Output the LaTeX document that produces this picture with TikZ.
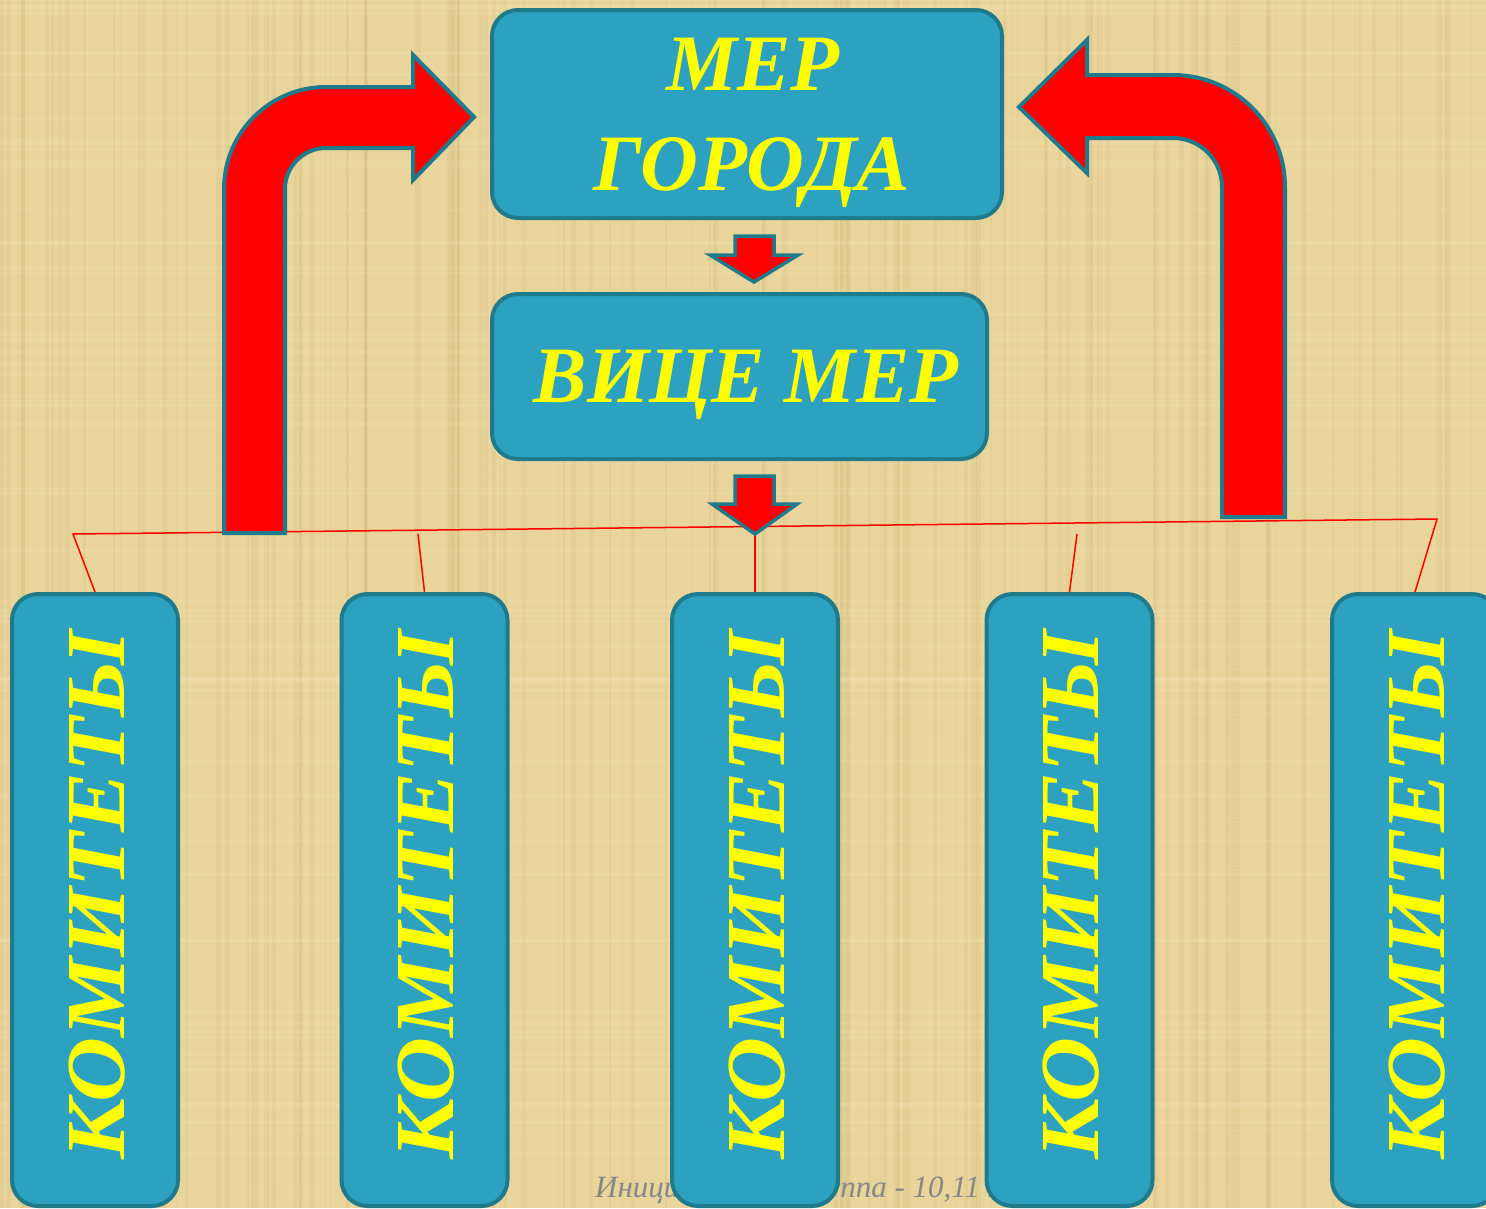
\documentclass[tikz,border=0pt]{standalone}
\usepackage{fontspec}
\setmainfont{Liberation Serif}
\usetikzlibrary{calc}
\definecolor{bg}{RGB}{233,212,155}
\definecolor{bgdark}{RGB}{200,175,110}
\definecolor{bglight}{RGB}{248,234,192}
\definecolor{boxfill}{RGB}{44,162,192}
\definecolor{boxline}{RGB}{31,122,140}
\definecolor{txt}{RGB}{255,255,0}
\definecolor{foot}{RGB}{135,135,135}
\begin{document}
\begin{tikzpicture}[x=1pt,y=-1pt,
  box/.style={draw=boxline, line width=4pt, fill=boxfill, rounded corners=26pt, inner sep=0pt},
  boxtext/.style={text=txt, inner sep=0pt, font=\fontsize{80}{90}\selectfont\bfseries\itshape},
  comtext/.style={text=txt, inner sep=0pt, rotate=90, anchor=base, font=\fontsize{84}{90}\selectfont\bfseries\itshape},
  redarrow/.style={draw=boxline, line width=4pt, fill=red, line join=miter},
  smallarrow/.style={draw=boxline, line width=3.5pt, fill=red, line join=miter},
  link/.style={draw=red, line width=1.5pt}]
\useasboundingbox (0,0) rectangle (1486,1208);
\clip (0,0) rectangle (1486,1208);
\fill[bg] (0,0) rectangle (1486,1208);
% texture
\pgfmathsetseed{11}
\foreach \i in {1,...,140}{
  \pgfmathsetmacro\xx{rnd*1486}
  \pgfmathsetmacro\ww{0.5+rnd*5}
  \draw[bgdark, opacity=0.16, line width=\ww pt] (\xx,0) -- (\xx,1208);
}
\foreach \i in {1,...,90}{
  \pgfmathsetmacro\yy{rnd*1208}
  \pgfmathsetmacro\ww{0.5+rnd*4}
  \draw[bglight, opacity=0.14, line width=\ww pt] (0,\yy) -- (1486,\yy);
}
% footer text (partly hidden by the boxes)
\node[anchor=base west, inner sep=0pt, text=foot, font=\fontsize{31}{36}\selectfont\itshape] (foot) at (595,1197) {Инициативная группа - 10,11 классов};

% boxes
\node[box, minimum width=510pt, minimum height=208pt] (mer) at (747,114) {};
\node[boxtext, anchor=base] (mer1) at (753,90) {МЕР};
\node[boxtext, anchor=base] (mer2) at (752,190) {ГОРОДА};
\node[box, minimum width=495pt, minimum height=165pt] (vice) at (739.5,376.5) {};
\node[boxtext, anchor=base] (vicet) at (746,402) {ВИЦЕ МЕР};

\foreach \n/\x in {c1/95,c2/424.5,c3/755,c4/1069.5,c5/1415}{
  \node[box, minimum width=166pt, minimum height=612pt] (\n) at (\x,900) {};
  \node[comtext] (\n t) at ($(\n.center)+(29,-5)$) {\scalebox{1.07}[1]{КОМИТЕТЫ}};
}

% red links
\coordinate (hl) at (73,534);
\coordinate (hr) at (1437,519);
\coordinate (t2) at (418,534);
\coordinate (t3) at (755,527);
\coordinate (t4) at (1077,534);
\draw[link] (c1.north) -- (hl) -- (hr) -- (c5.north);
\draw[link] (t2) -- (c2.north);
\draw[link] (t3) -- (c3.north);
\draw[link] (t4) -- (c4.north);

% small arrows
\draw[smallarrow, shift={(mer.south)}] (-12,16) -- (27,16) -- (27,35) -- (51,35) -- (7,62) -- (-37,35) -- (-12,35) -- cycle;
\draw[smallarrow, shift={(vice.south)}] (-4.5,15) -- (34.5,15) -- (34.5,43) -- (57.5,43) -- (15.5,73) -- (-27.5,43) -- (-4.5,43) -- cycle;

% big curved arrows
\draw[redarrow] (224,533) -- (224,189) .. controls (224,132.7) and (269.7,87) .. (326,87) -- (413,87) -- (413,55) -- (474,117) -- (413,180) -- (413,148) -- (326,148) .. controls (303.4,148) and (285,166.4) .. (285,189) -- (285,533) -- cycle;
\draw[redarrow] (1285,517) -- (1285,187) .. controls (1285,125.1) and (1234.9,75) .. (1173,75) -- (1087,75) -- (1087,40) -- (1019,107) -- (1087,173) -- (1087,138) -- (1173,138) .. controls (1200.1,138) and (1222,159.9) .. (1222,187) -- (1222,517) -- cycle;
\end{tikzpicture}
\end{document}
